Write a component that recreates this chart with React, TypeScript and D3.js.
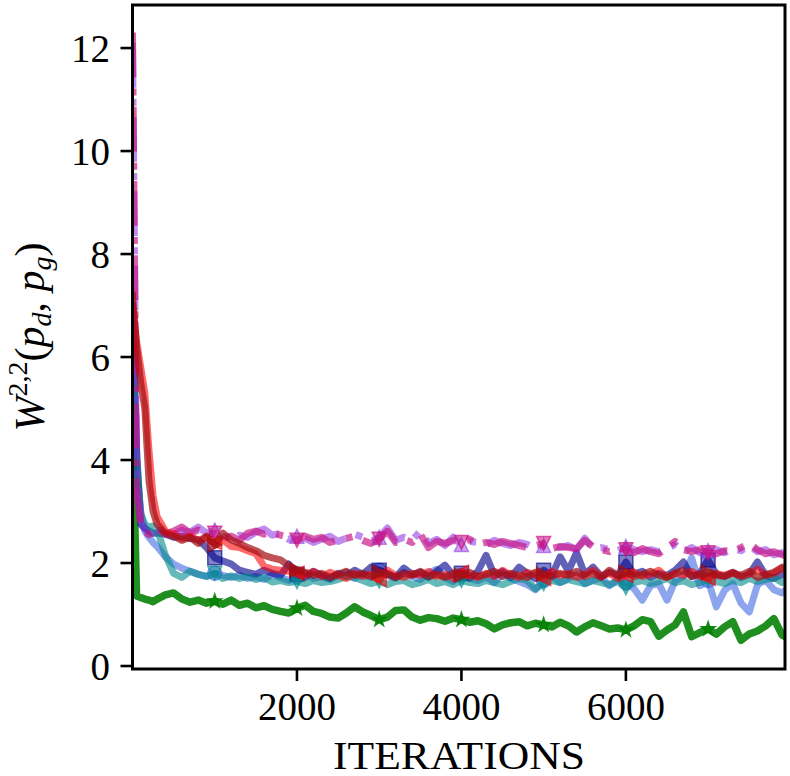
import React from "react";
import * as d3 from "d3";

// iteration grid
const ITER_EARLY = [0, 50, 100, 150, 200, 250];
const ITER = [...ITER_EARLY, ...d3.range(300, 8001, 100)];

const X_TICKS = [2000, 4000, 6000];
const Y_TICKS = [0, 2, 4, 6, 8, 10, 12];
const MARKER_ITERS = [1000, 2000, 3000, 4000, 5000, 6000, 7000];

const GREEN = [
  4.6, 1.36, 1.33, 1.3, 1.28, 1.25,
  1.3, 1.38, 1.42, 1.3, 1.24, 1.28, 1.22, 1.26, 1.2, 1.28,
  1.18, 1.22, 1.13, 1.17, 1.1, 1.06, 1.03, 1.12, 1.18, 1.06,
  1.02, 0.95, 0.93, 1.03, 1.15, 1.05, 0.98, 0.9, 0.95, 1.08,
  1.09, 0.95, 0.89, 0.94, 0.92, 0.87, 0.93, 0.9, 0.85, 0.88,
  0.82, 0.72, 0.8, 0.84, 0.86, 0.78, 0.83, 0.8, 0.76, 0.85,
  0.78, 0.66, 0.76, 0.84, 0.78, 0.72, 0.74, 0.7, 0.78, 0.9,
  0.86, 0.58, 0.7, 0.8, 1.05, 0.57, 0.65, 0.72, 0.62, 0.76,
  0.86, 0.5, 0.62, 0.68, 0.78, 0.92, 0.6, 0.52,
];

const TEAL = [
  6.0, 4.0, 2.95, 2.75, 2.7, 2.72,
  2.65, 2.15, 1.8, 1.72, 1.84, 1.78, 1.74, 1.8, 1.7, 1.75,
  1.7, 1.74, 1.68, 1.72, 1.63, 1.66, 1.62, 1.64, 1.6, 1.66,
  1.62, 1.64, 1.68, 1.74, 1.72, 1.66, 1.6, 1.65, 1.58, 1.64,
  1.66, 1.58, 1.62, 1.68, 1.6, 1.64, 1.58, 1.66, 1.62, 1.6,
  1.66, 1.62, 1.58, 1.64, 1.7, 1.66, 1.5, 1.6, 1.66, 1.62,
  1.68, 1.64, 1.6, 1.66, 1.62, 1.58, 1.64, 1.52, 1.62, 1.66,
  1.6, 1.64, 1.7, 1.62, 1.66, 1.58, 1.62, 1.68, 1.64, 1.6,
  1.66, 1.62, 1.7, 1.64, 1.68, 1.72, 1.62, 1.66,
];

const NAVY = [
  7.0, 4.2, 2.75, 2.68, 2.62, 2.58,
  2.58, 2.56, 2.5, 2.52, 2.48, 2.45, 2.3, 2.1, 2.04, 1.98,
  1.86, 1.82, 1.78, 1.86, 1.8, 1.76, 1.98, 1.78, 1.72, 1.84,
  1.76, 1.7, 1.8, 1.74, 1.86, 1.78, 1.92, 1.86, 1.8, 1.72,
  1.9, 1.78, 1.82, 1.72, 1.84, 1.96, 1.76, 1.8, 1.7, 1.84,
  2.15, 1.76, 1.84, 1.72, 1.92, 1.8, 1.7, 1.86, 1.76, 2.12,
  1.84, 2.2, 1.78, 1.92, 1.74, 1.82, 1.76, 2.02, 1.78, 1.84,
  1.72, 1.8, 1.76, 1.86, 2.02, 1.74, 1.8, 2.06, 1.78, 1.74,
  1.82, 1.72, 1.78, 2.02, 1.76, 1.7, 1.78, 1.74,
];

const ROYAL = [
  6.2, 3.8, 3.0, 2.62, 2.5, 2.4,
  2.32, 2.12, 1.98, 1.9, 1.84, 1.78, 1.74, 1.8, 1.76, 1.72,
  1.76, 1.7, 1.74, 1.68, 1.78, 1.72, 1.66, 1.74, 1.8, 1.7,
  1.74, 1.68, 1.76, 1.82, 1.7, 1.78, 1.72, 1.86, 1.76, 1.7,
  1.82, 1.74, 1.68, 1.8, 1.88, 1.72, 1.64, 1.76, 1.7, 1.66,
  1.74, 1.62, 1.8, 1.7, 1.64, 1.58, 1.48, 1.66, 1.74, 1.62,
  1.7, 1.78, 1.6, 1.66, 1.72, 1.56, 1.68, 1.62, 1.5, 1.28,
  1.56, 1.6, 1.28, 1.66, 1.74, 2.1, 1.56, 1.66, 1.15, 1.47,
  1.6, 1.22, 1.05, 1.58, 1.67, 1.48, 1.42, 1.55,
];

const RED = [
  7.0, 6.3, 5.8, 5.3, 4.2, 3.3,
  2.9, 2.62, 2.56, 2.48, 2.52, 2.44, 2.5, 2.4, 2.45, 2.32,
  2.3, 2.24, 2.18, 1.94, 1.88, 1.86, 1.84, 1.8, 1.76, 1.84,
  1.74, 1.82, 1.76, 1.7, 1.8, 1.74, 1.78, 1.68, 1.86, 1.76,
  1.72, 1.8, 1.76, 1.84, 1.74, 1.78, 1.7, 1.82, 1.76, 1.72,
  1.8, 1.74, 1.86, 1.76, 1.72, 1.82, 1.78, 1.7, 1.84, 1.76,
  1.8, 1.72, 1.78, 1.86, 1.74, 1.8, 1.7, 1.76, 1.82, 1.74,
  1.78, 1.86, 1.72, 1.8, 1.76, 1.84, 1.74, 1.7, 1.8, 1.76,
  1.82, 1.74, 1.78, 1.88, 1.76, 1.8, 1.9, 1.82,
];

const DARKRED = [
  7.2, 6.2, 5.5, 5.0, 3.6, 3.0,
  2.75, 2.58, 2.52, 2.44, 2.5, 2.38, 2.52, 2.35, 2.58, 2.45,
  2.38, 2.3, 2.24, 2.15, 2.1, 2.06, 1.95, 1.86, 1.82, 1.76,
  1.8, 1.72, 1.78, 1.84, 1.76, 1.8, 1.74, 1.82, 1.78, 1.72,
  1.8, 1.76, 1.84, 1.74, 1.78, 1.72, 1.8, 1.76, 1.82, 1.74,
  1.78, 1.84, 1.74, 1.8, 1.76, 1.72, 1.82, 1.78, 1.74, 1.8,
  1.76, 1.84, 1.74, 1.8, 1.72, 1.86, 1.76, 1.82, 1.74, 1.78,
  1.84, 1.76, 1.72, 1.8, 1.86, 1.74, 1.78, 1.82, 1.76, 1.74,
  1.8, 1.76, 1.84, 1.72, 1.78, 1.82, 1.92, 1.86,
];

const MAGENTA = [
  12.3, 3.4, 2.75, 2.62, 2.55, 2.6,
  2.68, 2.56, 2.62, 2.7, 2.58, 2.64, 2.55, 2.58, 2.48, 2.52,
  2.44, 2.58, 2.62, 2.56, 2.6, 2.54, 2.5, 2.44, 2.52, 2.46,
  2.5, 2.4, 2.44, 2.48, 2.52, 2.44, 2.38, 2.46, 2.62, 2.4,
  2.46, 2.4, 2.56, 2.3, 2.42, 2.38, 2.44, 2.4, 2.46, 2.36,
  2.4, 2.36, 2.42, 2.38, 2.34, 2.3, 2.34, 2.38, 2.28, 2.32,
  2.3, 2.28, 2.44, 2.32, 2.26, 2.22, 2.3, 2.26, 2.2, 2.28,
  2.22, 2.18, 2.3, 2.42, 2.26, 2.22, 2.26, 2.2, 2.18, 2.24,
  2.22, 2.3, 2.38, 2.26, 2.18, 2.22, 2.16, 2.12,
];

const PURPLE = [
  12.1, 3.6, 2.8, 2.66, 2.58, 2.62,
  2.62, 2.66, 2.56, 2.64, 2.6, 2.7, 2.58, 2.64, 2.52, 2.46,
  2.54, 2.5, 2.6, 2.66, 2.54, 2.58, 2.46, 2.52, 2.48, 2.4,
  2.46, 2.52, 2.42, 2.48, 2.56, 2.5, 2.42, 2.5, 2.68, 2.44,
  2.5, 2.44, 2.62, 2.38, 2.46, 2.34, 2.5, 2.36, 2.42, 2.4,
  2.36, 2.44, 2.38, 2.34, 2.4, 2.36, 2.28, 2.34, 2.36, 2.3,
  2.34, 2.26, 2.48, 2.28, 2.3, 2.26, 2.24, 2.32, 2.26, 2.22,
  2.26, 2.22, 2.28, 2.36, 2.22, 2.3, 2.2, 2.24, 2.26, 2.2,
  2.28, 2.24, 2.34, 2.22, 2.26, 2.16, 2.2, 2.14,
];

type Marker = "square" | "circle" | "tup" | "tdown" | "tleft" | "star" | "tright";

interface Series {
  key: string;
  values: number[];
  color: string;
  alpha: number;
  width: number;
  dash: boolean;
  marker: Marker;
  msize: number;
}

const SERIES: Series[] = [
  { key: "green", values: GREEN, color: "#008000", alpha: 0.88, width: 7.5, dash: false, marker: "star", msize: 6 },
  { key: "royal", values: ROYAL, color: "#4169e1", alpha: 0.6, width: 7, dash: false, marker: "circle", msize: 7 },
  { key: "navy", values: NAVY, color: "#00008b", alpha: 0.62, width: 7, dash: false, marker: "square", msize: 7 },
  { key: "teal", values: TEAL, color: "#008b8b", alpha: 0.6, width: 7, dash: false, marker: "tdown", msize: 7 },
  { key: "purple", values: PURPLE, color: "#8a2be2", alpha: 0.55, width: 7, dash: true, marker: "tup", msize: 7 },
  { key: "magenta", values: MAGENTA, color: "#c71585", alpha: 0.68, width: 7, dash: true, marker: "tdown", msize: 7 },
  { key: "red", values: RED, color: "#ff0000", alpha: 0.58, width: 7, dash: false, marker: "tleft", msize: 7 },
  { key: "darkred", values: DARKRED, color: "#a50f15", alpha: 0.72, width: 7, dash: false, marker: "tright", msize: 7 },
];

const W = 790;
const H = 776;
const LEFT = 132.5;
const RIGHT = 785;
const TOP = 5;
const BOTTOM = 669;

const FONT = "'Liberation Serif', 'Times New Roman', serif";

function markerPath(m: Marker, r: number): string {
  switch (m) {
    case "square":
      return `M${-r},${-r}H${r}V${r}H${-r}Z`;
    case "circle":
      return d3.symbol(d3.symbolCircle, Math.PI * r * r)() as string;
    case "tup":
      return `M0,${-r}L${r},${r}L${-r},${r}Z`;
    case "tdown":
      return `M0,${r}L${r},${-r}L${-r},${-r}Z`;
    case "tleft":
      return `M${-r},0L${r},${-r}L${r},${r}Z`;
    case "tright":
      return `M${r},0L${-r},${-r}L${-r},${r}Z`;
    case "star":
      return d3.symbol(d3.symbolStar, r * r * 1.6)() as string;
  }
}

export default function App() {
  const x = d3.scaleLinear().domain([0, 7935]).range([LEFT, RIGHT]);
  const y = d3.scaleLinear().domain([-0.058, 12.836]).range([BOTTOM, TOP]);

  const line = (vals: number[]) =>
    d3
      .line<number>()
      .x((_, i) => x(ITER[i]))
      .y((v) => y(v))(vals) as string;

  return (
    <svg
      width={W}
      height={H}
      viewBox={`0 0 ${W} ${H}`}
      style={{ position: "absolute", left: 0, top: 0, background: "#fff" }}
    >
      <defs>
        <clipPath id="plot">
          <rect x={LEFT} y={TOP} width={RIGHT - LEFT} height={BOTTOM - TOP} />
        </clipPath>
      </defs>
      <rect x={0} y={0} width={W} height={H} fill="#fff" />

      <g clipPath="url(#plot)">
        {SERIES.map((s) => (
          <g key={s.key}>
            <path
              d={line(s.values)}
              fill="none"
              stroke={s.color}
              strokeOpacity={s.alpha}
              strokeWidth={s.width}
              strokeLinejoin="round"
              strokeLinecap={s.dash ? "butt" : "square"}
              strokeDasharray={s.dash ? `${6.4 * s.width},${1.6 * s.width},${1 * s.width},${1.6 * s.width}` : undefined}
            />
            {MARKER_ITERS.map((it) => {
              const idx = ITER.indexOf(it);
              return (
                <path
                  key={it}
                  d={markerPath(s.marker, s.msize)}
                  transform={`translate(${x(it)},${y(s.values[idx])})`}
                  fill={s.color}
                  fillOpacity={s.alpha * 0.8}
                  stroke={s.color}
                  strokeOpacity={s.alpha}
                  strokeWidth={1.5}
                />
              );
            })}
          </g>
        ))}
      </g>

      {/* frame */}
      <rect
        x={LEFT}
        y={TOP}
        width={RIGHT - LEFT}
        height={BOTTOM - TOP}
        fill="none"
        stroke="#000"
        strokeWidth={3}
      />

      {/* y ticks */}
      {Y_TICKS.map((t) => (
        <g key={t}>
          <line x1={LEFT - 12} x2={LEFT} y1={y(t)} y2={y(t)} stroke="#000" strokeWidth={2.6} />
          <text
            x={110}
            y={y(t)}
            dy="0.35em"
            textAnchor="end"
            fontFamily={FONT}
            fontSize={39}
            fill="#000"
          >
            {t}
          </text>
        </g>
      ))}

      {/* x ticks */}
      {X_TICKS.map((t) => (
        <g key={t}>
          <line x1={x(t)} x2={x(t)} y1={BOTTOM} y2={BOTTOM + 12} stroke="#000" strokeWidth={2.6} />
          <text
            x={x(t)}
            y={720}
            textAnchor="middle"
            fontFamily={FONT}
            fontSize={39}
            fill="#000"
          >
            {t}
          </text>
        </g>
      ))}

      {/* x label */}
      <text
        x={459}
        y={769}
        textAnchor="middle"
        fontFamily={FONT}
        fontSize={39}
        textLength={252}
        lengthAdjust="spacingAndGlyphs"
        fill="#000"
      >
        ITERATIONS
      </text>

      {/* y label */}
      <text
        transform={`translate(44,${(TOP + BOTTOM) / 2}) rotate(-90)`}
        textAnchor="middle"
        fontFamily={FONT}
        fontSize={42}
        fill="#000"
      >
        <tspan fontStyle="italic">W</tspan>
        <tspan fontSize={28} dy={-17}>2,2</tspan>
        <tspan dy={17}>(</tspan>
        <tspan fontStyle="italic">p</tspan>
        <tspan fontStyle="italic" fontSize={28} dy={7}>d</tspan>
        <tspan dy={-7}>, </tspan>
        <tspan fontStyle="italic">p</tspan>
        <tspan fontStyle="italic" fontSize={28} dy={7}>g</tspan>
        <tspan dy={-7}>)</tspan>
      </text>
    </svg>
  );
}
